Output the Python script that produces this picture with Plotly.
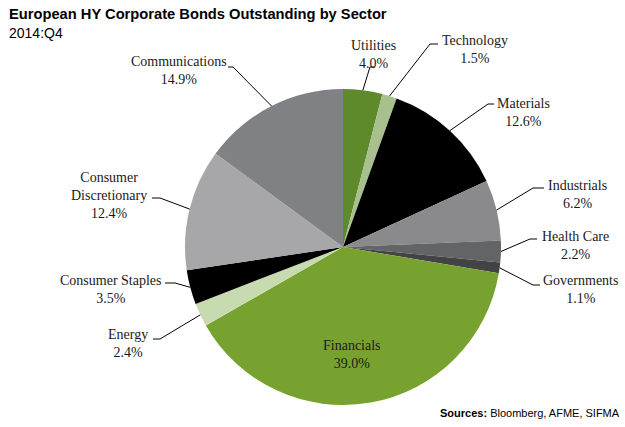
import math
import plotly.graph_objects as go

# ---- data ----
sectors = ["Utilities", "Technology", "Materials", "Industrials", "Health Care",
           "Governments", "Financials", "Energy", "Consumer Staples",
           "Consumer Discretionary", "Communications"]
shares = [4.0, 1.5, 12.6, 6.2, 2.2, 1.1, 39.0, 2.4, 3.5, 12.4, 14.9]
label_texts = ["Utilities", "Technology", "Materials", "Industrials", "Health Care",
               "Governments", "Financials", "Energy", "Consumer Staples",
               "Consumer<br>Discretionary", "Communications"]
colors = ["#5e8a2c", "#a8c08d", "#000000", "#8a8a8c", "#636466", "#434345",
          "#78a22f", "#c8dbb0", "#000000", "#a7a7a9", "#808184"]

W, H = 625, 427
CX, CY, R = 343, 247, 158

# label layout (pixel positions): text centre, elbow point, horizontal end
label_layout = {
    "Utilities": dict(tx=373, ty=54, ex=370, ey=67, hx=375),
    "Technology": dict(tx=475, ty=49, ex=430, ey=44, hx=438),
    "Materials": dict(tx=523, ty=112, ex=488, ey=104, hx=494),
    "Industrials": dict(tx=577, ty=194, ex=533, ey=188, hx=544),
    "Health Care": dict(tx=575, ty=245, ex=530, ey=239, hx=537),
    "Governments": dict(tx=580, ty=289, ex=533, ey=285, hx=540),
    "Financials": dict(tx=352, ty=354),
    "Energy": dict(tx=128, ty=343, ex=160, ey=339, hx=153),
    "Consumer Staples": dict(tx=111, ty=289, ex=175, ey=283, hx=165),
    "Consumer Discretionary": dict(tx=109, ty=195, ex=160, ey=198, hx=152),
    "Communications": dict(tx=179, ty=71, ex=233, ey=67, hx=228),
}


def px(x):
    return x / W


def py(y):
    return 1 - y / H


fig = go.Figure()
fig.add_trace(go.Pie(
    labels=sectors, values=shares, sort=False, direction="clockwise", rotation=0,
    marker=dict(colors=colors, line=dict(width=0)),
    textinfo="none", hoverinfo="label+value", showlegend=False,
    domain=dict(x=[px(CX - R), px(CX + R)], y=[py(CY + R), py(CY - R)]),
))

serif = "Liberation Serif, Times New Roman, serif"
annotations = []
shapes = []
total = sum(shares)
cum = 0.0
for name, txt, v in zip(sectors, label_texts, shares):
    mid = (cum + v / 2) / total * 2 * math.pi
    cum += v
    sx = CX + R * math.sin(mid)
    sy = CY - R * math.cos(mid)
    lbl = f"{txt}<br>{v:.1f}%"
    L = label_layout[name]
    if "ex" in L:
        shapes.append(dict(type="path", xref="paper", yref="paper",
                           path=f"M {px(sx)} {py(sy)} L {px(L['ex'])} {py(L['ey'])} L {px(L['hx'])} {py(L['ey'])}",
                           line=dict(color="#000", width=1)))
    annotations.append(dict(x=px(L["tx"]), y=py(L["ty"]), xref="paper", yref="paper",
                            text=lbl, showarrow=False, xanchor="center", yanchor="middle",
                            font=dict(family=serif, size=14, color="#1a1a1a")))

annotations.append(dict(x=px(7), y=py(4), xref="paper", yref="paper", xanchor="left",
                        yanchor="top", showarrow=False,
                        text="<b>European HY Corporate Bonds Outstanding by Sector</b>",
                        font=dict(family="Liberation Sans, Arial", size=14.7, color="#000")))
annotations.append(dict(x=px(7), y=py(23), xref="paper", yref="paper", xanchor="left",
                        yanchor="top", showarrow=False, text="2014:Q4",
                        font=dict(family="Liberation Sans, Arial", size=14, color="#000")))
annotations.append(dict(x=px(622), y=py(413), xref="paper", yref="paper", xanchor="right",
                        yanchor="middle", showarrow=False,
                        text="<b>Sources:</b> Bloomberg, AFME, SIFMA",
                        font=dict(family="Liberation Sans, Arial", size=11, color="#000")))

fig.update_layout(width=W, height=H, margin=dict(l=0, r=0, t=0, b=0),
                  paper_bgcolor="white", plot_bgcolor="white",
                  annotations=annotations, shapes=shapes)
fig.write_html("out.html", config={"displayModeBar": False})

# remove default browser body margin so the figure fills the window exactly
with open("out.html", "r", encoding="utf-8") as f:
    html = f.read()
html = html.replace("<head>", "<head><style>html,body{margin:0;padding:0;overflow:hidden;}</style>", 1)
with open("out.html", "w", encoding="utf-8") as f:
    f.write(html)
